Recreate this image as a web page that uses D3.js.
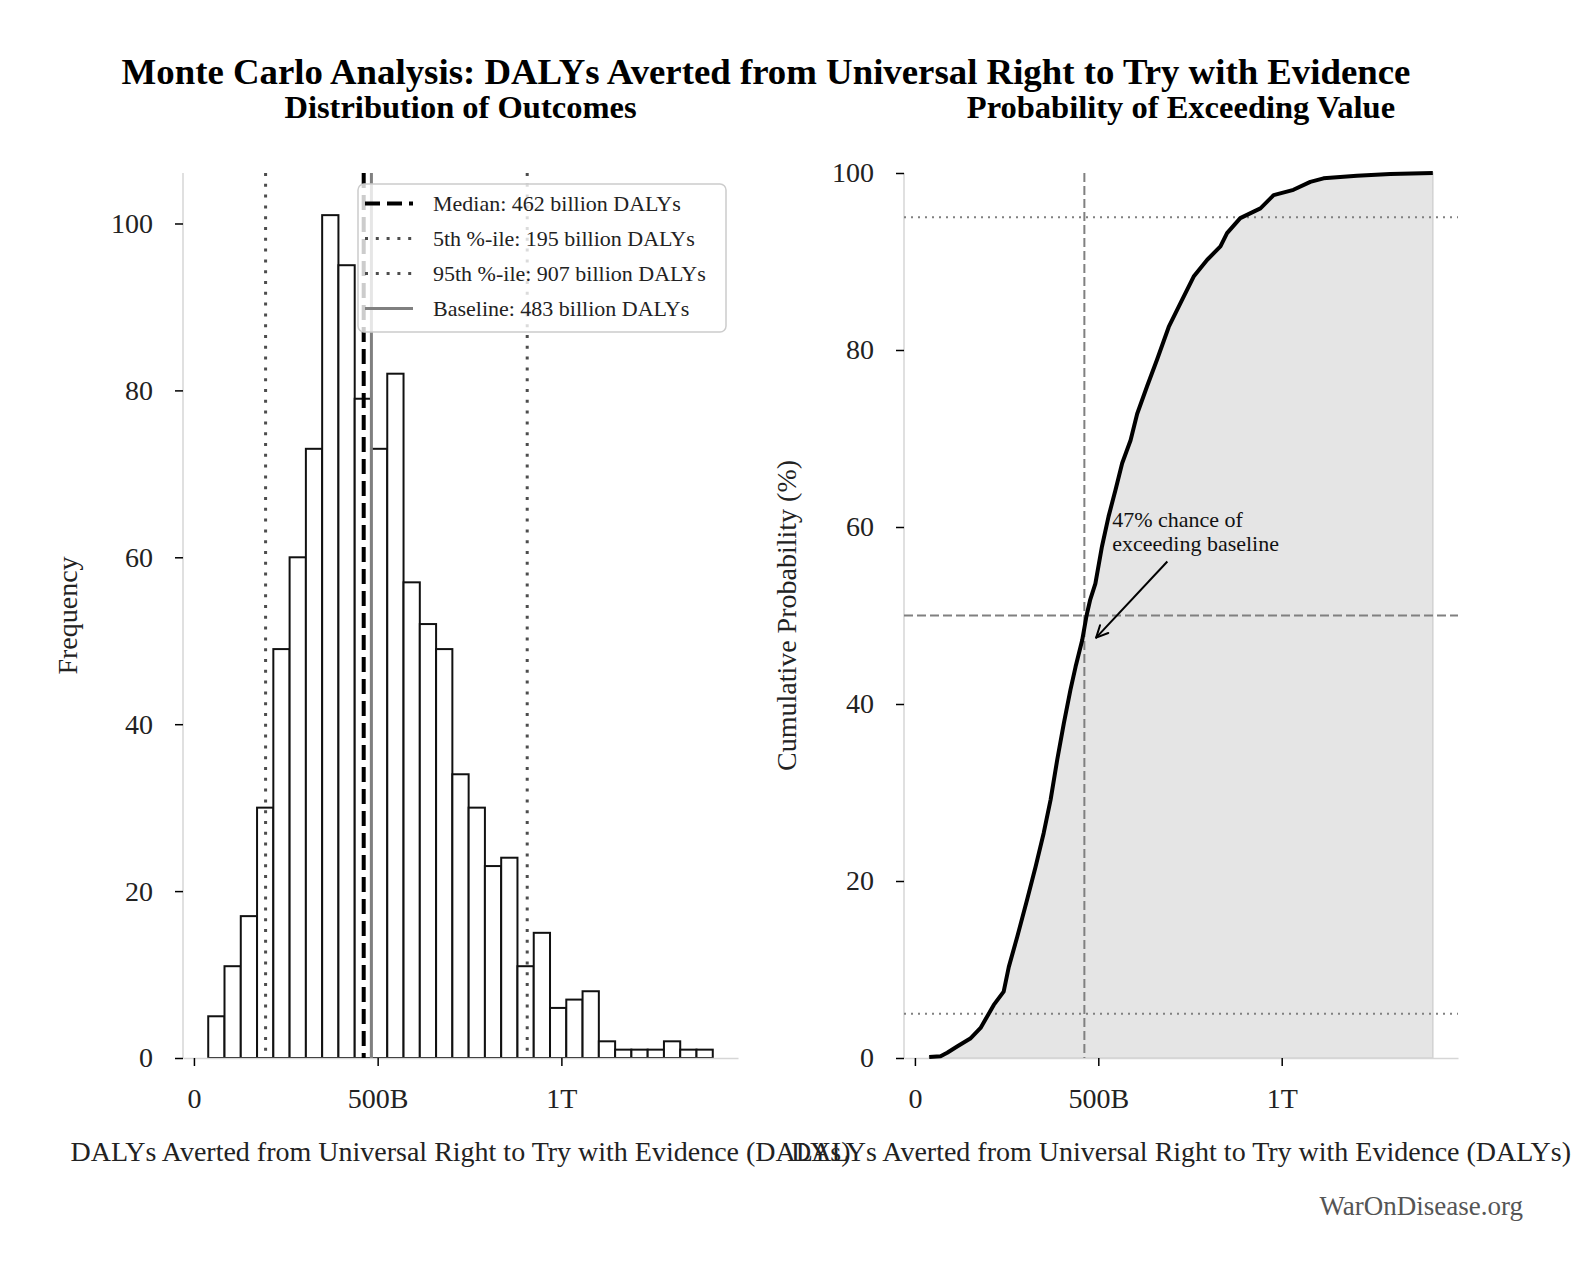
<!doctype html>
<html>

<head>
    <meta charset="utf-8">
    <title>Monte Carlo Analysis: DALYs Averted</title>
    <script src="https://d3js.org/d3.v7.min.js"></script>
    <style>
        body { margin: 0; background: #fff; }
        text { font-family: "Liberation Serif", "DejaVu Serif", serif; }
    </style>
</head>

<body>

    <script>

    // ---- data, all values in billions of DALYs ----
    var binCounts = [5, 11, 17, 30, 49, 60, 73, 101, 95, 79, 73, 82, 57, 52, 49, 34,
                     30, 23, 24, 11, 15, 6, 7, 8, 2, 1, 1, 1, 2, 1, 1];
    var binMin = 38.9;
    var binMax = 1412;

    // cumulative curve
    var cdfValues = [39, 70, 88, 115, 151, 179, 197, 215, 242, 256, 279, 306, 329, 351, 370, 388,
                     406, 424, 438, 456, 468, 478, 492, 510, 528, 547, 565, 588, 606, 633, 660,
                     692, 724, 760, 797, 833, 851, 887, 942, 978, 1032, 1078, 1114, 1205, 1296, 1412];
    var cdfPercents = [0.1, 0.2, 0.6, 1.3, 2.2, 3.4, 4.7, 6.0, 7.5, 10.3, 13.7, 17.9, 21.6, 25.4, 29.2, 33.7,
                       37.8, 41.6, 44.2, 47.2, 50.0, 51.8, 53.6, 57.8, 61.2, 64.2, 67.2, 69.8, 72.8, 75.9, 78.9,
                       82.6, 85.3, 88.3, 90.2, 91.7, 93.2, 94.9, 96.0, 97.5, 98.1, 99.0, 99.4, 99.7, 99.9, 100];

    var markerLabels = ['Median', '5th %-ile', '95th %-ile', 'Baseline'];
    var markerValues = [462, 195, 907, 483];
    var percentileLines = [95, 50, 5];
    var exceedPercent = 47;

    var xTickValues = [0, 500, 1000];
    var xTickLabels = ['0', '500B', '1T'];
    var yTickValues = [0, 20, 40, 60, 80, 100];

    // ---- layout ----
    var width = 1582, height = 1280;
    var plotTop = 173, plotBottom = 1058;
    var leftX = [183, 738];
    var rightX = [904, 1458];

    var svg = d3.select('body')
                .append('svg')
                .attr('width', width)
                .attr('height', height);

    // matplotlib style 5% side margins
    var pad = (binMax - binMin) * 0.05;
    var xDomain = [binMin - pad, binMax + pad];

    var xHist = d3.scaleLinear().domain(xDomain).range(leftX);
    var yHist = d3.scaleLinear().domain([0, d3.max(binCounts) * 1.05]).range([plotBottom, plotTop]);
    var xCdf = d3.scaleLinear().domain(xDomain).range(rightX);
    var yCdf = d3.scaleLinear().domain([0, 100]).range([plotBottom, plotTop]);

    // ---- titles ----
    svg.append('text')
       .attr('x', 766).attr('y', 84)
       .attr('text-anchor', 'middle')
       .attr('font-size', 36.8).attr('font-weight', 'bold')
       .text('Monte Carlo Analysis: DALYs Averted from Universal Right to Try with Evidence');

    svg.append('text')
       .attr('x', (leftX[0] + leftX[1]) / 2).attr('y', 118)
       .attr('text-anchor', 'middle')
       .attr('font-size', 32.5).attr('font-weight', 'bold')
       .text('Distribution of Outcomes');

    svg.append('text')
       .attr('x', (rightX[0] + rightX[1]) / 2).attr('y', 118)
       .attr('text-anchor', 'middle')
       .attr('font-size', 32.5).attr('font-weight', 'bold')
       .text('Probability of Exceeding Value');

    // ---- axes helper ----
    function drawAxes(g, xs, ys) {
      var xAxis = d3.axisBottom(xs)
                    .tickValues(xTickValues)
                    .tickFormat(function (d, i) { return xTickLabels[i]; })
                    .tickSizeInner(8).tickSizeOuter(0).tickPadding(22);
      var yAxis = d3.axisLeft(ys)
                    .tickValues(yTickValues)
                    .tickSizeInner(8).tickSizeOuter(0).tickPadding(22);

      var gx = g.append('g').attr('transform', 'translate(0,' + plotBottom + ')').call(xAxis);
      var gy = g.append('g').attr('transform', 'translate(' + xs.range()[0] + ',0)').call(yAxis);

      [gx, gy].forEach(function (a) {
        a.select('.domain').attr('stroke', '#d6d6d6').attr('stroke-width', 1.5);
        a.selectAll('.tick line').attr('stroke', '#000').attr('stroke-width', 1.5);
        a.selectAll('.tick text')
         .attr('fill', '#222')
         .attr('font-size', 28)
         .attr('font-family', '"Liberation Serif", "DejaVu Serif", serif');
      });
      gy.select('.domain').attr('d', 'M0,' + plotTop + 'V' + plotBottom);
    }

    // ---- left panel: histogram ----
    var left = svg.append('g');
    var binW = (binMax - binMin) / binCounts.length;

    left.selectAll('rect.bin')
        .data(binCounts)
        .enter()
        .append('rect')
        .attr('class', 'bin')
        .attr('x', function (d, i) { return xHist(binMin + i * binW); })
        .attr('width', function (d, i) { return xHist(binMin + (i + 1) * binW) - xHist(binMin + i * binW); })
        .attr('y', function (d) { return yHist(d); })
        .attr('height', function (d) { return yHist(0) - yHist(d); })
        .attr('fill', '#fff')
        .attr('stroke', '#111')
        .attr('stroke-width', 2);

    drawAxes(left, xHist, yHist);

    var markerStyle = [
      { color: '#000', width: 4, dash: '15 7' },
      { color: '#4d4d4d', width: 3, dash: '3 7.8' },
      { color: '#4d4d4d', width: 3, dash: '3 7.8' },
      { color: '#808080', width: 3, dash: null }
    ];

    left.selectAll('line.marker')
        .data(markerValues)
        .enter()
        .append('line')
        .attr('class', 'marker')
        .attr('x1', function (d) { return xHist(d); })
        .attr('x2', function (d) { return xHist(d); })
        .attr('y1', plotTop)
        .attr('y2', plotBottom)
        .attr('stroke', function (d, i) { return markerStyle[i].color; })
        .attr('stroke-width', function (d, i) { return markerStyle[i].width; })
        .attr('stroke-dasharray', function (d, i) { return markerStyle[i].dash; });

    left.append('text')
        .attr('transform', 'translate(77,' + (plotTop + plotBottom) / 2 + ') rotate(-90)')
        .attr('text-anchor', 'middle')
        .attr('font-size', 28)
        .attr('fill', '#222')
        .text('Frequency');

    left.append('text')
        .attr('x', (leftX[0] + leftX[1]) / 2).attr('y', 1161)
        .attr('text-anchor', 'middle')
        .attr('font-size', 28)
        .attr('fill', '#222')
        .text('DALYs Averted from Universal Right to Try with Evidence (DALYs)');

    // legend
    var legend = left.append('g').attr('transform', 'translate(358,184)');
    legend.append('rect')
          .attr('width', 368).attr('height', 148)
          .attr('rx', 6).attr('ry', 6)
          .attr('fill', '#fff').attr('fill-opacity', 0.8)
          .attr('stroke', '#cccccc').attr('stroke-width', 1.5);

    var rows = legend.selectAll('g.row')
                     .data(markerLabels)
                     .enter()
                     .append('g')
                     .attr('class', 'row')
                     .attr('transform', function (d, i) { return 'translate(0,' + (19.6 + i * 35) + ')'; });

    rows.append('line')
        .attr('x1', 7).attr('x2', 55)
        .attr('stroke', function (d, i) { return markerStyle[i].color; })
        .attr('stroke-width', function (d, i) { return markerStyle[i].width; })
        .attr('stroke-dasharray', function (d, i) { return markerStyle[i].dash; });

    rows.append('text')
        .attr('x', 75).attr('y', 7.5)
        .attr('font-size', 22)
        .attr('fill', '#222')
        .text(function (d, i) { return d + ': ' + markerValues[i] + ' billion DALYs'; });

    // ---- right panel: cumulative probability ----
    var right = svg.append('g');
    var cdfData = cdfValues.map(function (v, i) { return [v, cdfPercents[i]]; });

    right.append('path')
         .datum(cdfData)
         .attr('d', d3.area()
                      .x(function (d) { return xCdf(d[0]); })
                      .y0(yCdf(0))
                      .y1(function (d) { return yCdf(d[1]); }))
         .attr('fill', '#e5e5e5')
         .attr('stroke', '#d2d2d2')
         .attr('stroke-width', 1.5);

    drawAxes(right, xCdf, yCdf);

    right.selectAll('line.pct')
         .data(percentileLines)
         .enter()
         .append('line')
         .attr('class', 'pct')
         .attr('x1', rightX[0]).attr('x2', rightX[1])
         .attr('y1', function (d) { return yCdf(d); })
         .attr('y2', function (d) { return yCdf(d); })
         .attr('stroke', '#808080')
         .attr('stroke-width', 2)
         .attr('stroke-dasharray', function (d) { return d === 50 ? '9 4' : '2 5'; });

    right.append('line')
         .attr('x1', xCdf(markerValues[0])).attr('x2', xCdf(markerValues[0]))
         .attr('y1', plotTop).attr('y2', plotBottom)
         .attr('stroke', '#808080')
         .attr('stroke-width', 2)
         .attr('stroke-dasharray', '9 4');

    right.append('path')
         .datum(cdfData)
         .attr('d', d3.line()
                      .x(function (d) { return xCdf(d[0]); })
                      .y(function (d) { return yCdf(d[1]); }))
         .attr('fill', 'none')
         .attr('stroke', '#000')
         .attr('stroke-width', 4)
         .attr('stroke-linejoin', 'round');

    right.append('text')
         .attr('transform', 'translate(796,' + (plotTop + plotBottom) / 2 + ') rotate(-90)')
         .attr('text-anchor', 'middle')
         .attr('font-size', 28)
         .attr('fill', '#222')
         .text('Cumulative Probability (%)');

    right.append('text')
         .attr('x', (rightX[0] + rightX[1]) / 2).attr('y', 1161)
         .attr('text-anchor', 'middle')
         .attr('font-size', 28)
         .attr('fill', '#222')
         .text('DALYs Averted from Universal Right to Try with Evidence (DALYs)');

    // annotation
    var note = right.append('text')
                    .attr('x', xCdf(538)).attr('y', yCdf(60))
                    .attr('font-size', 22)
                    .attr('fill', '#111');
    note.append('tspan').text(exceedPercent + '% chance of');
    note.append('tspan').attr('x', xCdf(538)).attr('dy', 23.5).text('exceeding baseline');

    var bb = note.node().getBBox();
    var tx = xCdf(markerValues[3]), ty = yCdf(exceedPercent);
    var cx = bb.x + bb.width / 2, cy = bb.y + bb.height / 2;
    var dx = tx - cx, dy = ty - cy;
    var len = Math.sqrt(dx * dx + dy * dy);
    var ux = dx / len, uy = dy / len;
    // leave the text box through its lower edge
    var tEdge = (bb.y + bb.height + 6 - cy) / uy;
    var sx = cx + ux * tEdge, sy = cy + uy * tEdge;
    var ex = tx - ux * 6, ey = ty - uy * 6;

    right.append('line')
         .attr('x1', sx).attr('y1', sy).attr('x2', ex).attr('y2', ey)
         .attr('stroke', '#000').attr('stroke-width', 2);

    var ang = Math.atan2(uy, ux);
    [0.45, -0.45].forEach(function (a) {
      right.append('line')
           .attr('x1', ex).attr('y1', ey)
           .attr('x2', ex - 13 * Math.cos(ang + a))
           .attr('y2', ey - 13 * Math.sin(ang + a))
           .attr('stroke', '#000').attr('stroke-width', 2)
           .attr('stroke-linecap', 'round');
    });

    // watermark
    svg.append('text')
       .attr('x', 1523).attr('y', 1215)
       .attr('text-anchor', 'end')
       .attr('font-size', 27)
       .attr('fill', '#555')
       .text('WarOnDisease.org');

    </script>

</body>

</html>
